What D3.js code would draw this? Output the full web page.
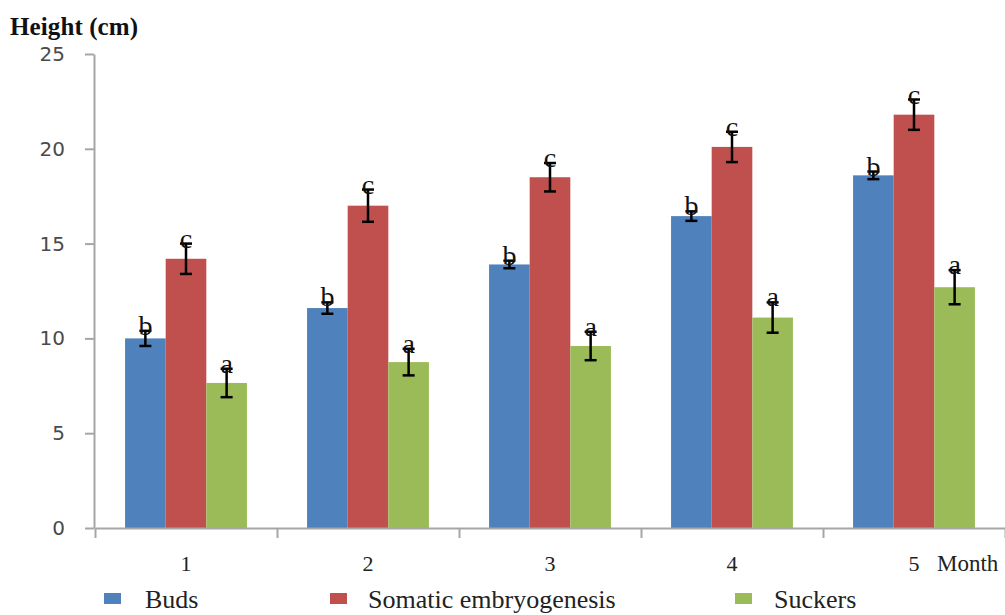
<!DOCTYPE html>
<html>
<head>
<meta charset="utf-8">
<script src="https://cdn.jsdelivr.net/npm/d3@7"></script>
<style>
  html, body { margin: 0; padding: 0; background: #fff; }
  svg { display: block; }
</style>
</head>
<body>
<script>
// chart values
const months = ['1', '2', '3', '4', '5'];
const seriesNames = ['Buds', 'Somatic embryogenesis', 'Suckers'];
const buds = [10.0, 11.6, 13.9, 16.45, 18.6];
const somatic = [14.2, 17.0, 18.5, 20.1, 21.8];
const suckers = [7.65, 8.75, 9.6, 11.1, 12.7];
const budsErr = [0.4, 0.3, 0.2, 0.25, 0.2];
const somaticErr = [0.8, 0.85, 0.75, 0.8, 0.8];
const suckersErr = [0.75, 0.7, 0.75, 0.8, 0.9];
const groupLetters = ['b', 'c', 'a'];
const yTicks = [0, 5, 10, 15, 20, 25];

const colors = ['#4f81bd', '#c0504d', '#9bbb59'];
const values = [buds, somatic, suckers];
const errors = [budsErr, somaticErr, suckersErr];

const width = 1005, height = 615;
const serif = '"Liberation Serif", "Times New Roman", serif';

const svg = d3.select('body').append('svg')
  .attr('width', width)
  .attr('height', height);

const y = d3.scaleLinear().domain([0, 25]).range([528, 54]);
const x0 = d3.scaleBand().domain(months).range([95, 1005]).padding(0);
const x1 = d3.scaleBand().domain(seriesNames)
  .range([0, x0.bandwidth()])
  .paddingInner(0)
  .paddingOuter(0.74);

// flatten into one record per bar
const rows = [];
months.forEach((m, i) => {
  seriesNames.forEach((s, j) => {
    rows.push({ month: m, series: s, value: values[j][i], err: errors[j][i], color: colors[j], letter: groupLetters[j] });
  });
});

// bars
svg.append('g').selectAll('rect')
  .data(rows)
  .enter()
  .append('rect')
  .attr('x', d => x0(d.month) + x1(d.series))
  .attr('y', d => y(d.value))
  .attr('width', x1.bandwidth())
  .attr('height', d => y(0) - y(d.value))
  .attr('fill', d => d.color);

// y axis
const yAxis = svg.append('g')
  .attr('transform', 'translate(94,0)')
  .call(d3.axisLeft(y).tickValues(yTicks).tickSize(9).tickSizeOuter(0).tickPadding(20));
yAxis.select('.domain').attr('stroke', '#a6a6a6').attr('stroke-width', 2);
yAxis.selectAll('.tick line').attr('stroke', '#a6a6a6').attr('stroke-width', 2);
yAxis.selectAll('.tick text')
  .attr('fill', '#4a4a4a')
  .style('font-family', '"DejaVu Sans", sans-serif')
  .style('font-size', '20px');

// x axis: ticks at the category boundaries
const xEdge = d3.scaleLinear().domain([0, months.length]).range([95, 1005]);
const xAxis = svg.append('g')
  .attr('transform', 'translate(0,528)')
  .call(d3.axisBottom(xEdge).tickValues(d3.range(months.length + 1)).tickSize(10).tickSizeOuter(0).tickFormat(''));
xAxis.select('.domain').attr('stroke', '#a6a6a6').attr('stroke-width', 2);
xAxis.selectAll('.tick line').attr('stroke', '#a6a6a6').attr('stroke-width', 2);

svg.append('g').selectAll('text')
  .data(months)
  .enter()
  .append('text')
  .attr('x', d => x0(d) + x0.bandwidth() / 2)
  .attr('y', 571)
  .attr('text-anchor', 'middle')
  .style('font-family', serif)
  .style('font-size', '22px')
  .attr('fill', '#222')
  .text(d => d);

svg.append('text')
  .attr('x', 937)
  .attr('y', 571)
  .style('font-family', serif)
  .style('font-size', '23px')
  .attr('fill', '#222')
  .text('Month');

// error bars
const eb = svg.append('g').attr('stroke', '#000').attr('stroke-width', 2.5);
rows.forEach(d => {
  const cx = x0(d.month) + x1(d.series) + x1.bandwidth() / 2;
  const top = y(d.value + d.err), bot = y(d.value - d.err);
  eb.append('line').attr('x1', cx).attr('x2', cx).attr('y1', top).attr('y2', bot);
  eb.append('line').attr('x1', cx - 6).attr('x2', cx + 6).attr('y1', top).attr('y2', top);
  eb.append('line').attr('x1', cx - 6).attr('x2', cx + 6).attr('y1', bot).attr('y2', bot);
});

// significance letters
svg.append('g').selectAll('text')
  .data(rows)
  .enter()
  .append('text')
  .attr('x', d => x0(d.month) + x1(d.series) + x1.bandwidth() / 2)
  .attr('y', d => y(d.value + d.err) + 4)
  .attr('text-anchor', 'middle')
  .style('font-family', serif)
  .style('font-size', '28px')
  .attr('fill', '#111')
  .text(d => d.letter);

// title
svg.append('text')
  .attr('x', 10)
  .attr('y', 35)
  .attr('textLength', 128)
  .style('font-family', serif)
  .style('font-size', '25px')
  .style('font-weight', 'bold')
  .attr('fill', '#111')
  .text('Height (cm)');

// legend
const legendX = [104, 330, 735];
const legend = svg.append('g').selectAll('g')
  .data(seriesNames)
  .enter()
  .append('g')
  .attr('transform', (d, i) => `translate(${legendX[i]},0)`);
legend.append('rect')
  .attr('x', 0).attr('y', 593)
  .attr('width', 17).attr('height', 11)
  .attr('fill', (d, i) => colors[i]);
legend.append('text')
  .attr('x', (d, i) => [41, 38, 39][i])
  .attr('y', 608)
  .style('font-family', serif)
  .style('font-size', '26px')
  .attr('fill', '#222')
  .text(d => d);
</script>
</body>
</html>
